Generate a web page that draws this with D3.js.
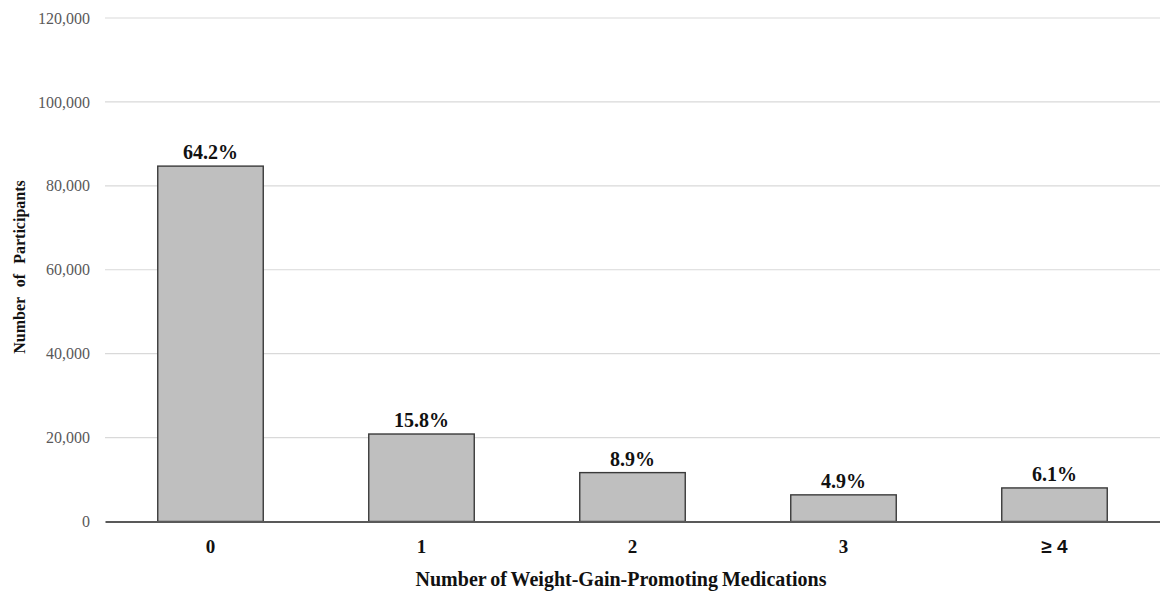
<!DOCTYPE html>
<html>
<head>
<meta charset="utf-8">
<script src="https://cdn.jsdelivr.net/npm/d3@7"></script>
<style>
  html, body { margin: 0; padding: 0; background: #fff; }
  svg { display: block; }
</style>
</head>
<body>
<svg id="chart" width="1160" height="595"></svg>
<script>
// Participants by number of weight-gain-promoting medications
const categories = ["0", "1", "2", "3", "\u2265 4"];
const participants = [84700, 20850, 11650, 6350, 8000];
const shareLabels = ["64.2%", "15.8%", "8.9%", "4.9%", "6.1%"];
const yTicks = [0, 20000, 40000, 60000, 80000, 100000, 120000];

const svg = d3.select("#chart");
const margin = { top: 18, right: 0, bottom: 73.5, left: 105 };
const width = 1160 - margin.left - margin.right;
const height = 595 - margin.top - margin.bottom;
const serif = "'Liberation Serif', 'Times New Roman', serif";

const g = svg.append("g").attr("transform", `translate(${margin.left},${margin.top})`);

const x = d3.scaleBand()
  .domain(categories)
  .range([0, width])
  .paddingInner(0.5)
  .paddingOuter(0.25);

const y = d3.scaleLinear().domain([0, 120000]).range([height, 0]);

// horizontal gridlines
g.append("g")
  .selectAll("line")
  .data(yTicks.filter(d => d > 0))
  .join("line")
  .attr("x1", 0).attr("x2", width)
  .attr("y1", d => y(d)).attr("y2", d => y(d))
  .attr("stroke", "#d9d9d9")
  .attr("stroke-width", 1.2);

// y axis tick labels
const yAxis = g.append("g")
  .call(d3.axisLeft(y).tickValues(yTicks).tickFormat(d3.format(",")).tickSize(0).tickPadding(15));
yAxis.select(".domain").remove();
yAxis.selectAll("text")
  .attr("font-family", serif)
  .attr("font-size", 16)
  .attr("fill", "#595959");

// bars
g.append("g")
  .selectAll("rect")
  .data(participants)
  .join("rect")
  .attr("x", (d, i) => x(categories[i]))
  .attr("y", d => y(d))
  .attr("width", x.bandwidth())
  .attr("height", d => height - y(d))
  .attr("fill", "#bfbfbf")
  .attr("stroke", "#3a3a3a")
  .attr("stroke-width", 1.4);

// value labels
g.append("g")
  .selectAll("text")
  .data(participants)
  .join("text")
  .attr("x", (d, i) => x(categories[i]) + x.bandwidth() / 2)
  .attr("y", d => y(d) - 7)
  .attr("text-anchor", "middle")
  .attr("font-family", serif)
  .attr("font-weight", "bold")
  .attr("font-size", 20)
  .attr("fill", "#111")
  .text((d, i) => shareLabels[i]);

// x axis baseline and category labels
const xAxis = g.append("g")
  .attr("transform", `translate(0,${height})`)
  .call(d3.axisBottom(x).tickSize(0).tickPadding(18));
xAxis.select(".domain").attr("stroke", "#595959").attr("stroke-width", 2);
xAxis.selectAll("text")
  .attr("font-family", d => d.startsWith("\u2265") ? "'Liberation Sans', Arial, sans-serif" : serif)
  .attr("font-weight", "bold")
  .attr("font-size", 19)
  .attr("fill", "#111");

// axis titles
svg.append("text")
  .attr("x", 621)
  .attr("y", 586)
  .attr("text-anchor", "middle")
  .attr("font-family", serif)
  .attr("font-weight", "bold")
  .attr("font-size", 20)
  .attr("word-spacing", -1)
  .attr("fill", "#111")
  .text("Number of Weight-Gain-Promoting Medications");

svg.append("text")
  .attr("transform", "translate(25,267) rotate(-90)")
  .attr("text-anchor", "middle")
  .attr("font-family", serif)
  .attr("font-weight", "bold")
  .attr("font-size", 16)
  .attr("word-spacing", 6)
  .attr("fill", "#111")
  .text("Number of Participants");
</script>
</body>
</html>
